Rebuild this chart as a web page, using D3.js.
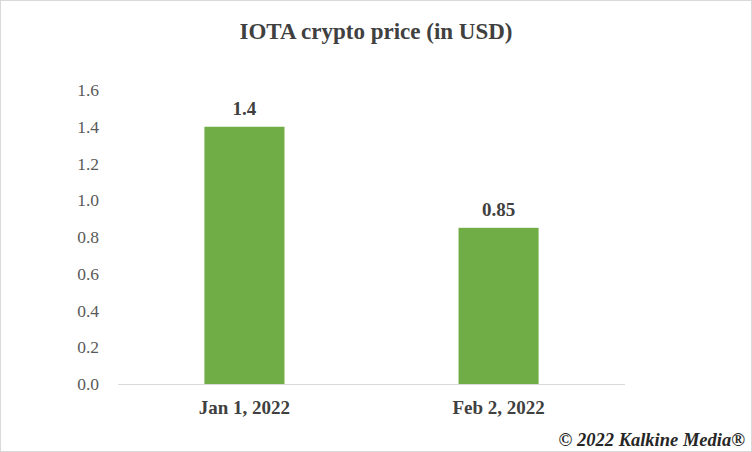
<!DOCTYPE html>
<html><head><meta charset="utf-8">
<script src="https://cdn.jsdelivr.net/npm/d3@7"></script>
<style>body{margin:0;background:#fff}</style></head>
<body><svg id="c" width="752" height="452"></svg>
<script>
const categories = ["Jan 1, 2022", "Feb 2, 2022"];
const prices = [1.4, 0.85];
const priceLabels = ["1.4", "0.85"];
const yTicks = [0, 0.2, 0.4, 0.6, 0.8, 1.0, 1.2, 1.4, 1.6];

const svg = d3.select("#c");
const font = "'Liberation Serif','Times New Roman',serif";
svg.append("rect").attr("x",0.5).attr("y",0.5).attr("width",751).attr("height",451)
  .attr("fill","#fff").attr("stroke","#d9d9d9");
svg.append("text").attr("x",376).attr("y",39).attr("text-anchor","middle")
  .attr("font-family",font).attr("font-weight","bold").attr("font-size",23).attr("fill","#404040")
  .text("IOTA crypto price (in USD)");

const x = d3.scaleBand().domain(categories).range([118,625]).paddingInner(0.685).paddingOuter(0.34);
const y = d3.scaleLinear().domain([0,1.6]).range([384,90]);

const ya = svg.append("g").attr("transform","translate(102,0)")
  .call(d3.axisLeft(y).tickValues(yTicks).tickFormat(d3.format(".1f")).tickSize(0));
ya.select(".domain").remove();
ya.selectAll("text").attr("font-family",font).attr("font-size",17.5).attr("fill","#595959");

svg.append("line").attr("x1",118).attr("x2",625).attr("y1",384.5).attr("y2",384.5).attr("stroke","#d9d9d9");

svg.selectAll(".bar").data(prices).join("rect")
  .attr("x",(d,i)=>x(categories[i])).attr("width",x.bandwidth())
  .attr("y",d=>y(d)).attr("height",d=>y(0)-y(d)).attr("fill","#70AD47");

svg.selectAll(".lbl").data(prices).join("text")
  .attr("x",(d,i)=>x(categories[i])+x.bandwidth()/2).attr("y",d=>y(d)-12)
  .attr("text-anchor","middle").attr("font-family",font).attr("font-weight","bold")
  .attr("font-size",19).attr("fill","#404040").text((d,i)=>priceLabels[i]);

svg.selectAll(".xl").data(categories).join("text")
  .attr("x",d=>x(d)+x.bandwidth()/2).attr("y",414)
  .attr("text-anchor","middle").attr("font-family",font).attr("font-weight","bold")
  .attr("font-size",19).attr("fill","#404040").text(d=>d);

svg.append("text").attr("x",745).attr("y",446).attr("text-anchor","end")
  .attr("font-family",font).attr("font-weight","bold").attr("font-style","italic")
  .attr("font-size",18.5).attr("fill","#262626").text("© 2022 Kalkine Media®");
</script></body></html>
